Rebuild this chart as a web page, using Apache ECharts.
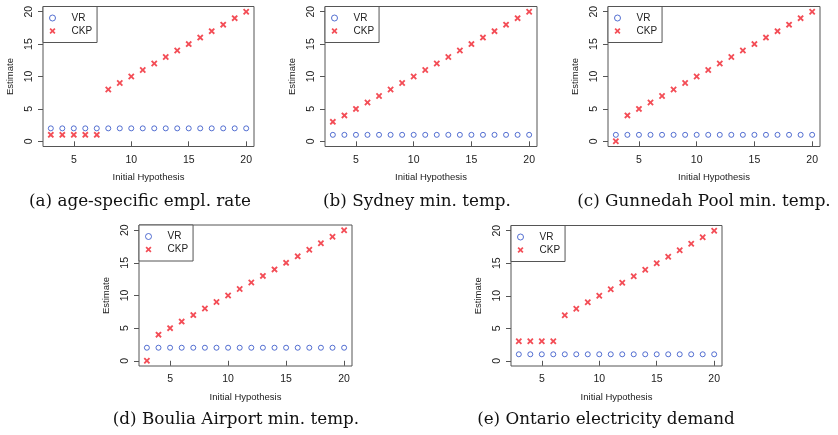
<!DOCTYPE html>
<html>
<head>
<meta charset="utf-8">
<script src="https://cdn.jsdelivr.net/npm/echarts@6/dist/echarts.min.js"></script>
<style>
  html, body { margin: 0; padding: 0; background: #fff; }
  #chart { width: 838px; height: 435px; }
</style>
</head>
<body>
<div id="chart"></div>
<script>
// ---- data ----
const hypotheses = [3, 4, 5, 6, 7, 8, 9, 10, 11, 12, 13, 14, 15, 16, 17, 18, 19, 20];
const xTickLabels = [5, 10, 15, 20];
const yTickLabels = [0, 5, 10, 15, 20];
const seriesNames = ['VR', 'CKP'];
const captions = [
  '(a) age-specific empl. rate',
  '(b) Sydney min. temp.',
  '(c) Gunnedah Pool min. temp.',
  '(d) Boulia Airport min. temp.',
  '(e) Ontario electricity demand'
];
const vrA  = [2, 2, 2, 2, 2, 2, 2, 2, 2, 2, 2, 2, 2, 2, 2, 2, 2, 2];
const ckpA = [1, 1, 1, 1, 1, 8, 9, 10, 11, 12, 13, 14, 15, 16, 17, 18, 19, 20];
const vrB  = [1, 1, 1, 1, 1, 1, 1, 1, 1, 1, 1, 1, 1, 1, 1, 1, 1, 1];
const ckpB = [3, 4, 5, 6, 7, 8, 9, 10, 11, 12, 13, 14, 15, 16, 17, 18, 19, 20];
const vrC  = [1, 1, 1, 1, 1, 1, 1, 1, 1, 1, 1, 1, 1, 1, 1, 1, 1, 1];
const ckpC = [0, 4, 5, 6, 7, 8, 9, 10, 11, 12, 13, 14, 15, 16, 17, 18, 19, 20];
const vrD  = [2, 2, 2, 2, 2, 2, 2, 2, 2, 2, 2, 2, 2, 2, 2, 2, 2, 2];
const ckpD = [0, 4, 5, 6, 7, 8, 9, 10, 11, 12, 13, 14, 15, 16, 17, 18, 19, 20];
const vrE  = [1, 1, 1, 1, 1, 1, 1, 1, 1, 1, 1, 1, 1, 1, 1, 1, 1, 1];
const ckpE = [3, 3, 3, 3, 7, 8, 9, 10, 11, 12, 13, 14, 15, 16, 17, 18, 19, 20];

const panelData = [[vrA, ckpA], [vrB, ckpB], [vrC, ckpC], [vrD, ckpD], [vrE, ckpE]];

// ---- layout / style ----
const boxes = [
  { left: 43,  top: 6.5,   width: 211, height: 140 },
  { left: 325, top: 6.5,   width: 212, height: 140 },
  { left: 608, top: 6.5,   width: 212, height: 140 },
  { left: 139, top: 225,   width: 213, height: 141 },
  { left: 511, top: 225.5, width: 211, height: 140.5 }
];
const captionPos = [[140, 201.5], [417, 201.5], [704, 201.5], [236, 420], [606, 420]];

const BLUE = '#2a4cc6';
const RED = '#f0202c';
const AXIS = '#555';
const TXT = '#222';
const SANS = '"Liberation Sans", Arial, sans-serif';
const SERIF = '"DejaVu Serif", serif';
const crossPath = 'path://M0,2L2,0L5,3L8,0L10,2L7,5L10,8L8,10L5,7L2,10L0,8L3,5Z';

const xMin = 3 - 0.04 * 17, xMax = 20 + 0.04 * 17;
const yMin = 0 - 0.04 * 20, yMax = 20 + 0.04 * 20;

const grid = [], xAxis = [], yAxis = [], series = [], legend = [], graphic = [];

boxes.forEach((b, i) => {
  grid.push({
    left: b.left, top: b.top, width: b.width, height: b.height,
    show: true, borderColor: AXIS, borderWidth: 1, backgroundColor: 'transparent',
    containLabel: false
  });
  xAxis.push({
    gridIndex: i, type: 'value', min: xMin, max: xMax,
    name: 'Initial Hypothesis', nameLocation: 'middle', nameGap: 26,
    nameTextStyle: { fontFamily: SANS, fontSize: 9.5, color: TXT },
    axisLine: { show: false },
    axisTick: { show: true, length: 5, customValues: xTickLabels, lineStyle: { color: AXIS } },
    axisLabel: { show: true, customValues: xTickLabels, margin: 8, fontFamily: SANS, fontSize: 10.5, color: TXT },
    splitLine: { show: false }
  });
  yAxis.push({
    gridIndex: i, type: 'value', min: yMin, max: yMax,
    name: 'Estimate', nameLocation: 'middle', nameGap: 28, nameRotate: 90,
    nameTextStyle: { fontFamily: SANS, fontSize: 9.5, color: TXT },
    axisLine: { show: false },
    axisTick: { show: true, length: 5, customValues: yTickLabels, lineStyle: { color: AXIS } },
    axisLabel: { show: true, customValues: yTickLabels, rotate: 90, margin: 8, fontFamily: SANS, fontSize: 10.5, color: TXT },
    splitLine: { show: false }
  });
  const [vr, ckp] = panelData[i];
  series.push({
    name: seriesNames[0], type: 'scatter', xAxisIndex: i, yAxisIndex: i,
    symbol: 'circle', symbolSize: 5,
    itemStyle: { color: 'rgba(255,255,255,0)', borderColor: BLUE, borderWidth: 1 },
    data: hypotheses.map((h, k) => [h, vr[k]])
  });
  series.push({
    name: seriesNames[1], type: 'scatter', xAxisIndex: i, yAxisIndex: i,
    symbol: crossPath, symbolSize: 6.5,
    itemStyle: { color: RED },
    data: hypotheses.map((h, k) => [h, ckp[k]])
  });
  legend.push({
    left: b.left, top: b.top, orient: 'vertical',
    backgroundColor: '#fff',
    borderColor: AXIS, borderWidth: 1, borderRadius: 0,
    padding: [6, 5, 6, 6],
    itemWidth: 6, itemHeight: 6, itemGap: 2,
    textStyle: { fontFamily: SANS, fontSize: 10, color: TXT, padding: [0, 0, 0, 11], lineHeight: 11 },
    data: [
      { name: seriesNames[0], icon: 'circle', itemStyle: { color: 'rgba(255,255,255,0)', borderColor: BLUE, borderWidth: 1 } },
      { name: seriesNames[1], icon: crossPath, itemStyle: { color: RED, borderWidth: 0 } }
    ],
    selectedMode: false
  });
  graphic.push({
    type: 'text', x: captionPos[i][0], y: captionPos[i][1],
    style: {
      text: captions[i], fontFamily: SERIF, fontSize: 16.8, fill: '#111',
      align: 'center', verticalAlign: 'middle'
    }
  });
});

const chart = echarts.init(document.getElementById('chart'), null, { renderer: 'canvas' });
chart.setOption({
  animation: false,
  backgroundColor: '#fff',
  grid, xAxis, yAxis, series, legend, graphic
});
</script>
</body>
</html>
